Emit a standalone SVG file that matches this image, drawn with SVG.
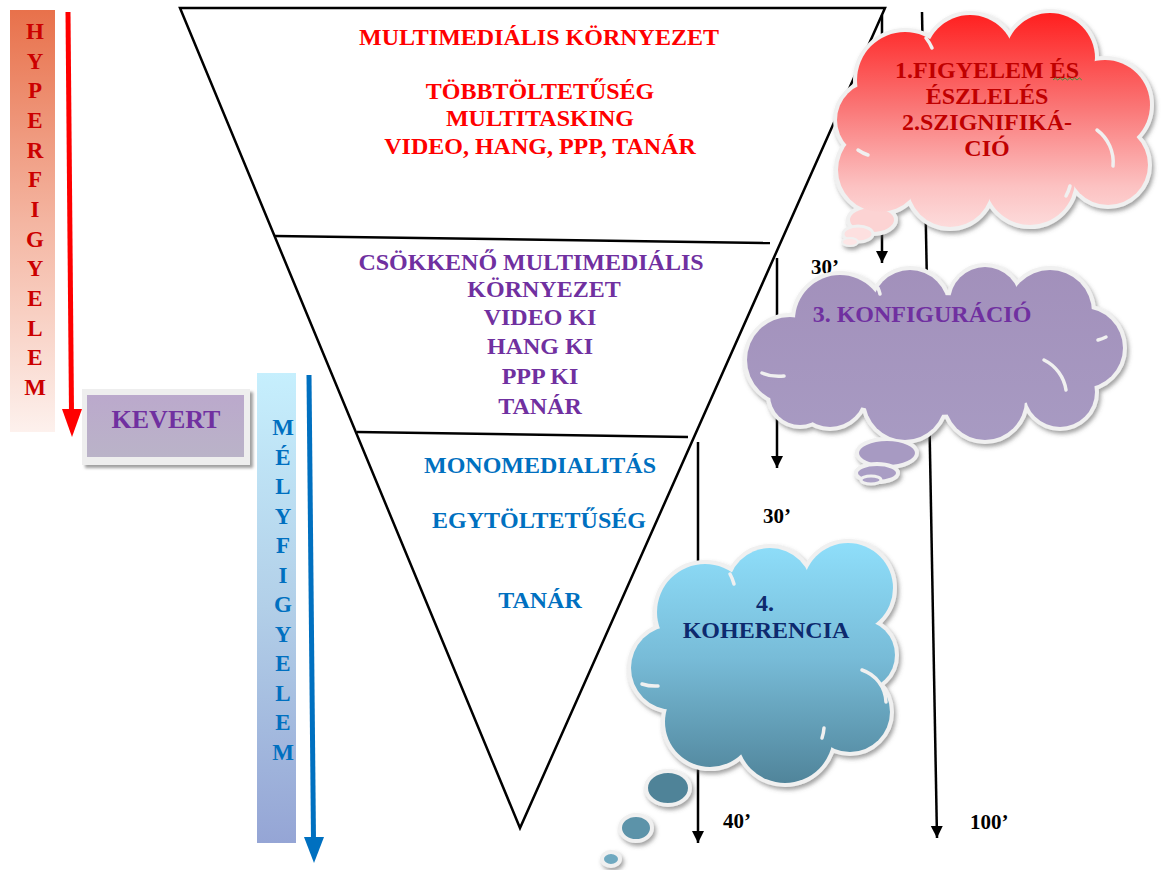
<svg xmlns="http://www.w3.org/2000/svg" width="1171" height="870" viewBox="0 0 1171 870">
  <defs>
    <style>
      .t { font-family: "Liberation Serif", "Times New Roman", serif; font-weight: bold; }
      .red { fill: #ff0000; font-size: 24px; }
      .pur { fill: #7030a0; font-size: 24px; }
      .blu { fill: #0070c0; font-size: 24px; }
      .hyp { fill: #cc0000; font-size: 23px; }
      .mely { fill: #0070c0; font-size: 23px; }
      .lab { fill: #000000; font-size: 21px; }
      .edge { stroke: #000; stroke-width: 2.5; fill: none; }
      .conn { stroke: #000; stroke-width: 2.5; fill: none; marker-end: url(#arrow); }
      .rim { fill: #f0f0f0; stroke: #f0f0f0; stroke-width: 8; }
      .inner { fill: none; stroke: #f0f0f0; stroke-width: 3.5; stroke-linecap: round; }
    </style>
    <marker id="arrow" markerUnits="userSpaceOnUse" markerWidth="14" markerHeight="14" refX="12" refY="6" orient="auto">
      <path d="M0,0 L12,6 L0,12 z" fill="#000"/>
    </marker>
    <linearGradient id="gHyper" x1="0" y1="0" x2="0" y2="1">
      <stop offset="0" stop-color="#e8714b"/>
      <stop offset="0.5" stop-color="#f4b5a1"/>
      <stop offset="1" stop-color="#fdf1ed"/>
    </linearGradient>
    <linearGradient id="gMely" x1="0" y1="0" x2="0" y2="1">
      <stop offset="0" stop-color="#c6effd"/>
      <stop offset="0.5" stop-color="#b2cfe8"/>
      <stop offset="1" stop-color="#95a5d5"/>
    </linearGradient>
    <linearGradient id="gKevert" x1="0" y1="0" x2="0" y2="1">
      <stop offset="0" stop-color="#bba9cc"/>
      <stop offset="1" stop-color="#bab3c8"/>
    </linearGradient>
    <linearGradient id="gRed" gradientUnits="userSpaceOnUse" x1="0" y1="12" x2="0" y2="245">
      <stop offset="0" stop-color="#ff1e1e"/>
      <stop offset="0.4" stop-color="#fa7474"/>
      <stop offset="0.75" stop-color="#fcc2c2"/>
      <stop offset="1" stop-color="#fde6e6"/>
    </linearGradient>
    <linearGradient id="gPurple" gradientUnits="userSpaceOnUse" x1="0" y1="265" x2="0" y2="485">
      <stop offset="0" stop-color="#a290bb"/>
      <stop offset="1" stop-color="#a99dc4"/>
    </linearGradient>
    <linearGradient id="gBlue" gradientUnits="userSpaceOnUse" x1="0" y1="540" x2="0" y2="800">
      <stop offset="0" stop-color="#8fdffb"/>
      <stop offset="0.45" stop-color="#78bcd8"/>
      <stop offset="1" stop-color="#4b7d92"/>
    </linearGradient>
    <filter id="shadow" x="-10%" y="-10%" width="120%" height="130%">
      <feDropShadow dx="2" dy="3" stdDeviation="2" flood-color="#555" flood-opacity="0.55"/>
    </filter>
    <filter id="boxShadow" x="-10%" y="-10%" width="120%" height="130%">
      <feDropShadow dx="3" dy="3" stdDeviation="1.5" flood-color="#777" flood-opacity="0.7"/>
    </filter>
  </defs>

  <rect width="1171" height="870" fill="#ffffff"/>

  <!-- HYPERFIGYELEM strip -->
  <g id="hyperfigyelem">
    <rect x="10" y="10" width="45" height="422" fill="url(#gHyper)"/>
    <g class="t hyp" text-anchor="middle">
      <text x="35" y="39">H</text>
      <text x="35" y="69">Y</text>
      <text x="35" y="98">P</text>
      <text x="35" y="128">E</text>
      <text x="35" y="158">R</text>
      <text x="35" y="187">F</text>
      <text x="35" y="217">I</text>
      <text x="35" y="247">G</text>
      <text x="35" y="276">Y</text>
      <text x="35" y="306">E</text>
      <text x="35" y="336">L</text>
      <text x="35" y="365">E</text>
      <text x="35" y="395">M</text>
    </g>
  </g>

  <!-- KEVERT box -->
  <g id="kevert">
    <rect x="82" y="389" width="168" height="76" fill="#eeeeee" filter="url(#boxShadow)"/>
    <rect x="87" y="395" width="157" height="62" fill="url(#gKevert)"/>
    <text class="t pur" x="166" y="428" text-anchor="middle" style="font-size:26px">KEVERT</text>
  </g>

  <!-- MÉLYFIGYELEM strip -->
  <g id="melyfigyelem">
    <rect x="257" y="373" width="39" height="470" fill="url(#gMely)"/>
    <g class="t mely" text-anchor="middle">
      <text x="283" y="435">M</text>
      <text x="283" y="465">É</text>
      <text x="283" y="494">L</text>
      <text x="283" y="524">Y</text>
      <text x="283" y="553">F</text>
      <text x="283" y="583">I</text>
      <text x="283" y="612">G</text>
      <text x="283" y="642">Y</text>
      <text x="283" y="671">E</text>
      <text x="283" y="701">L</text>
      <text x="283" y="730">E</text>
      <text x="283" y="760">M</text>
    </g>
  </g>

  <!-- inverted triangle with its three bands -->
  <g id="funnel">
    <polygon class="edge" points="180,8 885,8 520,828"/>
    <line class="edge" x1="275" y1="236" x2="770" y2="243"/>
    <line class="edge" x1="357" y1="432" x2="688" y2="437"/>
  </g>

  <g id="band-top" class="t red" text-anchor="middle">
    <text x="539" y="45">MULTIMEDIÁLIS KÖRNYEZET</text>
    <text x="540" y="99">TÖBBTÖLTETŰSÉG</text>
    <text x="540" y="126">MULTITASKING</text>
    <text x="540" y="154">VIDEO, HANG, PPP, TANÁR</text>
  </g>

  <g id="band-middle" class="t pur" text-anchor="middle">
    <text x="531" y="270">CSÖKKENŐ MULTIMEDIÁLIS</text>
    <text x="544" y="297">KÖRNYEZET</text>
    <text x="540" y="325">VIDEO KI</text>
    <text x="540" y="354">HANG KI</text>
    <text x="540" y="384">PPP KI</text>
    <text x="540" y="414">TANÁR</text>
  </g>

  <g id="band-bottom" class="t blu" text-anchor="middle">
    <text x="540" y="473">MONOMEDIALITÁS</text>
    <text x="539" y="528">EGYTÖLTETŰSÉG</text>
    <text x="540" y="608">TANÁR</text>
  </g>

  <!-- connectors -->
  <g id="connectors">
    <line x1="68" y1="12" x2="71.5" y2="412" stroke="#ff0000" stroke-width="5"/>
    <polygon points="62,409 82,409 72,437" fill="#ff0000"/>
    <line x1="309" y1="375" x2="313.5" y2="840" stroke="#0070c0" stroke-width="5"/>
    <polygon points="304,837 324,837 314,863" fill="#0070c0"/>
    <line class="conn" x1="882" y1="15" x2="882" y2="263"/>
    <line class="conn" x1="922" y1="12" x2="937" y2="838"/>
    <line class="conn" x1="777" y1="258" x2="777" y2="468"/>
    <line class="conn" x1="698" y1="442" x2="698" y2="843"/>
  </g>

  <!-- time labels -->
  <g id="labels" class="t lab">
    <text x="811" y="274">30’</text>
    <text x="763" y="523">30’</text>
    <text x="723" y="828">40’</text>
    <text x="970" y="829">100’</text>
  </g>

  <!-- cloud 1: attention and perception -->
  <g id="cloud-figyelem">
    <g filter="url(#shadow)">
      <g class="rim">
        <circle cx="905" cy="80" r="48"/>
        <circle cx="970" cy="60" r="45"/>
        <circle cx="1050" cy="58" r="45"/>
        <circle cx="1105" cy="105" r="45"/>
        <circle cx="1108" cy="165" r="40"/>
        <circle cx="1030" cy="180" r="45"/>
        <circle cx="950" cy="185" r="42"/>
        <circle cx="880" cy="170" r="42"/>
        <circle cx="875" cy="120" r="38"/>
      </g>
      <ellipse cx="872" cy="220" rx="24" ry="14" fill="#fcd3d3" stroke="#f0f0f0" stroke-width="4"/>
      <ellipse cx="858" cy="234" rx="15" ry="8" fill="#fde0e0" stroke="#f0f0f0" stroke-width="3"/>
      <ellipse cx="850" cy="242" rx="8" ry="4" fill="#fde6e6" stroke="#f0f0f0" stroke-width="2"/>
    </g>
    <g fill="url(#gRed)">
      <circle cx="905" cy="80" r="48"/>
      <circle cx="970" cy="60" r="45"/>
      <circle cx="1050" cy="58" r="45"/>
      <circle cx="1105" cy="105" r="45"/>
      <circle cx="1108" cy="165" r="40"/>
      <circle cx="1030" cy="180" r="45"/>
      <circle cx="950" cy="185" r="42"/>
      <circle cx="880" cy="170" r="42"/>
      <circle cx="875" cy="120" r="38"/>
      <ellipse cx="995" cy="120" rx="110" ry="70"/>
    </g>
    <g class="inner">
      <path d="M1097,130 A40,40 0 0 1 1113,166"/>
      <path d="M926,38 A45,45 0 0 1 932,48"/>
      <path d="M858,150 A38,38 0 0 0 868,155"/>
      <path d="M1066,196 A40,40 0 0 0 1070,186"/>
    </g>
    <g class="t" style="fill:#c00000;font-size:24px" text-anchor="middle">
      <text x="987" y="78">1.FIGYELEM ÉS</text>
      <text x="987" y="104">ÉSZLELÉS</text>
      <text x="987" y="130">2.SZIGNIFIKÁ-</text>
      <text x="987" y="156">CIÓ</text>
    </g>
    <path d="M1053,80 l2.4,-2 l2.4,2 l2.4,-2 l2.4,2 l2.4,-2 l2.4,2 l2.4,-2 l2.4,2 l2.4,-2 l2.4,2 l2.4,-2 l2.4,2" fill="none" stroke="#3c9a3c" stroke-width="1"/>
  </g>

  <!-- cloud 2: configuration -->
  <g id="cloud-konfiguracio">
    <g filter="url(#shadow)">
      <g class="rim">
        <circle cx="790" cy="360" r="43"/>
        <circle cx="840" cy="320" r="45"/>
        <circle cx="910" cy="308" r="38"/>
        <circle cx="985" cy="302" r="35"/>
        <circle cx="1050" cy="312" r="42"/>
        <circle cx="1083" cy="348" r="40"/>
        <circle cx="1060" cy="392" r="35"/>
        <circle cx="985" cy="400" r="40"/>
        <circle cx="905" cy="400" r="40"/>
        <circle cx="830" cy="392" r="35"/>
        <circle cx="800" cy="395" r="30"/>
      </g>
      <ellipse cx="887" cy="453" rx="30" ry="14" fill="#a79ac2" stroke="#f0f0f0" stroke-width="4"/>
      <ellipse cx="877" cy="473" rx="21" ry="9" fill="#a99dc4" stroke="#f0f0f0" stroke-width="4"/>
      <ellipse cx="871" cy="480" rx="10" ry="4" fill="#aca1c6" stroke="#f0f0f0" stroke-width="3"/>
    </g>
    <g fill="url(#gPurple)">
      <circle cx="790" cy="360" r="43"/>
      <circle cx="840" cy="320" r="45"/>
      <circle cx="910" cy="308" r="38"/>
      <circle cx="985" cy="302" r="35"/>
      <circle cx="1050" cy="312" r="42"/>
      <circle cx="1083" cy="348" r="40"/>
      <circle cx="1060" cy="392" r="35"/>
      <circle cx="985" cy="400" r="40"/>
      <circle cx="905" cy="400" r="40"/>
      <circle cx="830" cy="392" r="35"/>
      <circle cx="800" cy="395" r="30"/>
      <ellipse cx="935" cy="355" rx="150" ry="60"/>
    </g>
    <g class="inner">
      <path d="M1044,360 A40,40 0 0 1 1066,390"/>
      <path d="M1098,340 A40,40 0 0 0 1106,337"/>
      <path d="M762,373 A43,43 0 0 0 784,376"/>
      <path d="M878,288 A38,38 0 0 1 880,294"/>
    </g>
    <text class="t pur" x="922" y="322" text-anchor="middle">3. KONFIGURÁCIÓ</text>
  </g>

  <!-- cloud 3: coherence -->
  <g id="cloud-koherencia">
    <g filter="url(#shadow)">
      <g class="rim">
        <circle cx="705" cy="612" r="48"/>
        <circle cx="770" cy="590" r="42"/>
        <circle cx="848" cy="588" r="45"/>
        <circle cx="860" cy="655" r="35"/>
        <circle cx="850" cy="712" r="40"/>
        <circle cx="785" cy="735" r="48"/>
        <circle cx="710" cy="722" r="45"/>
        <circle cx="673" cy="668" r="42"/>
      </g>
      <ellipse cx="668" cy="788" rx="22" ry="17" fill="#4f8398" stroke="#f0f0f0" stroke-width="4"/>
      <ellipse cx="636" cy="828" rx="16" ry="13" fill="#5c93a9" stroke="#f0f0f0" stroke-width="4"/>
      <ellipse cx="611" cy="859" rx="9" ry="7" fill="#6fa9c0" stroke="#f0f0f0" stroke-width="4"/>
    </g>
    <g fill="url(#gBlue)">
      <circle cx="705" cy="612" r="48"/>
      <circle cx="770" cy="590" r="42"/>
      <circle cx="848" cy="588" r="45"/>
      <circle cx="860" cy="655" r="35"/>
      <circle cx="850" cy="712" r="40"/>
      <circle cx="785" cy="735" r="48"/>
      <circle cx="710" cy="722" r="45"/>
      <circle cx="673" cy="668" r="42"/>
      <ellipse cx="770" cy="665" rx="100" ry="80"/>
    </g>
    <g class="inner">
      <path d="M862,670 A35,35 0 0 1 886,702"/>
      <path d="M642,684 A42,42 0 0 0 658,686"/>
      <path d="M730,574 A42,42 0 0 1 734,584"/>
      <path d="M822,738 A40,40 0 0 0 824,728"/>
    </g>
    <g class="t" style="fill:#0d2a6e;font-size:24px" text-anchor="middle">
      <text x="765" y="611">4.</text>
      <text x="766" y="638">KOHERENCIA</text>
    </g>
  </g>
</svg>
